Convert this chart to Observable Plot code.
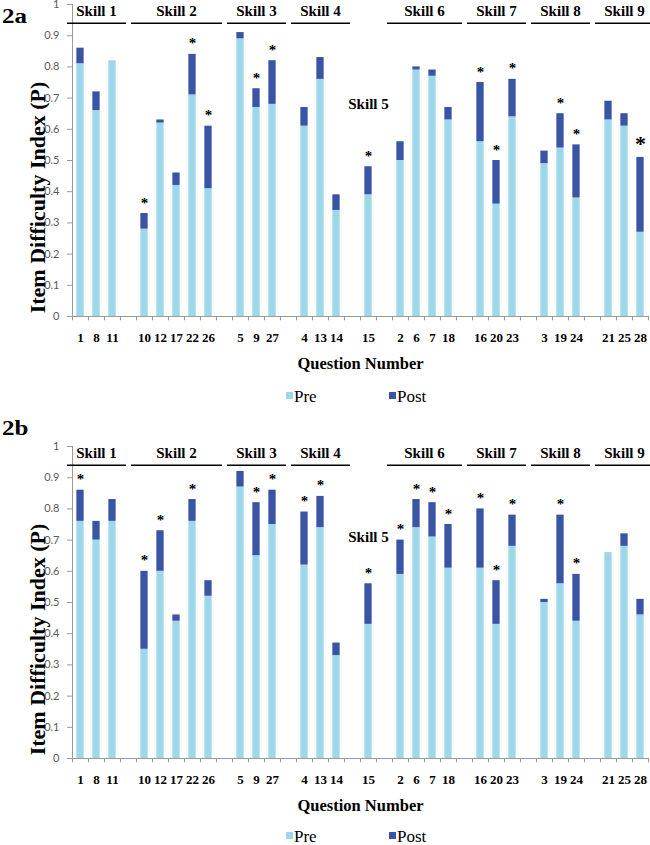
<!DOCTYPE html>
<html><head><meta charset="utf-8">
<script src="https://cdn.jsdelivr.net/npm/d3@7"></script>
<script src="https://cdn.jsdelivr.net/npm/@observablehq/plot@0.6"></script>
<style>
body{margin:0;background:#fff;}
#fig{position:relative;width:650px;height:845px;overflow:hidden;background:#fff;}
.panel{position:absolute;left:0;width:650px;}
.panel svg{overflow:visible;}
.tag{position:absolute;left:2px;font:bold 20px "Liberation Serif",serif;line-height:1;transform-origin:left bottom;transform:scaleX(1.25);}
.legend{position:absolute;left:0;width:650px;height:16px;font:17px "Liberation Serif",serif;color:#000;}
.sw{position:absolute;width:7px;height:7px;}
.lt{position:absolute;line-height:14px;height:14px;}
</style></head>
<body><div id="fig"></div>
<script>
// ---- data ----
const skills = ["Skill 1","Skill 2","Skill 3","Skill 4","Skill 5","Skill 6","Skill 7","Skill 8","Skill 9"];
const questions = ["1","8","11","10","12","17","22","26","5","9","27","4","13","14","15","2","6","7","18","16","20","23","3","19","24","21","25","28"];
const questionSkill = [1,1,1,2,2,2,2,2,3,3,3,4,4,4,5,6,6,6,6,7,7,7,8,8,8,9,9,9];

const preA  = [0.81,0.66,0.82,0.28,0.62,0.42,0.71,0.41,0.89,0.67,0.68,0.61,0.76,0.34,0.39,0.50,0.79,0.77,0.63,0.56,0.36,0.64,0.49,0.54,0.38,0.63,0.61,0.27];
const postA = [0.86,0.72,0.82,0.33,0.63,0.46,0.84,0.61,0.91,0.73,0.82,0.67,0.83,0.39,0.48,0.56,0.80,0.79,0.67,0.75,0.50,0.76,0.53,0.65,0.55,0.69,0.65,0.51];
const sigA  = ["10","22","26","9","27","15","16","20","23","19","24","28"];

const preB  = [0.76,0.70,0.76,0.35,0.60,0.44,0.76,0.52,0.87,0.65,0.75,0.62,0.74,0.33,0.43,0.59,0.74,0.71,0.61,0.61,0.43,0.68,0.50,0.56,0.44,0.66,0.68,0.46];
const postB = [0.86,0.76,0.83,0.60,0.73,0.46,0.83,0.57,0.92,0.82,0.86,0.79,0.84,0.37,0.56,0.70,0.83,0.82,0.75,0.80,0.57,0.78,0.51,0.78,0.59,0.66,0.72,0.51];
const sigB  = ["1","10","12","22","9","27","4","13","15","2","6","7","18","16","20","23","19","24"];

const yTicks = [0,0.1,0.2,0.3,0.4,0.5,0.6,0.7,0.8,0.9,1];
const legendLabels = ["Pre","Post"];
const xTitle = "Question Number";
const yTitle = "Item Difficulty Index (P)";

// ---- styles ----
const preColor = "#9dd8ea";
const postColor = "#3a54a5";
const axisGray = "#9a9a9a";
const serif = "Liberation Serif, Times New Roman, serif";

// ---- slot layout (gap between skills) ----
const slotKeys = [];
const slotLabel = new Map();
skills.forEach((s, si) => {
  if (si > 0) { const g = "gap" + si; slotKeys.push(g); slotLabel.set(g, ""); }
  questions.forEach((q, i) => { if (questionSkill[i] === si + 1) { slotKeys.push("q" + q); slotLabel.set("q" + q, q); } });
});
const skillRows = skills.map((name, si) => {
  const keys = questions.filter((q, i) => questionSkill[i] === si + 1).map(q => "q" + q);
  return {name, first: keys[0], last: keys[keys.length - 1], mid: keys[Math.floor((keys.length - 1) / 2)], n: keys.length};
});

const W = 650, H = 380, ML = 72, MR = 2, MT = 5, MB = 63;
const step = (W - ML - MR) / slotKeys.length;

function panel(pre, post, sig, skill5Y, bigStars) {
  const rows = questions.map((q, i) => ({q, slot: "q" + q, pre: pre[i], post: post[i], sig: sig.includes(q)}));
  const stars = rows.filter(d => d.sig && !bigStars.includes(d.q));
  const big = rows.filter(d => d.sig && bigStars.includes(d.q));
  const multi = skillRows.filter(d => d.n > 1);
  return Plot.plot({
    width: W, height: H, marginLeft: ML, marginRight: MR, marginTop: MT, marginBottom: MB,
    style: {fontFamily: "Lato, sans-serif", fontSize: "11px", background: "transparent", overflow: "visible"},
    x: {type: "band", domain: slotKeys, padding: 0, axis: null},
    y: {domain: [0, 1], axis: null},
    marks: [
      Plot.barY(rows, {x: "slot", y1: 0, y2: "pre", fill: preColor, insetLeft: 4.35, insetRight: 4.35}),
      Plot.barY(rows, {x: "slot", y1: "pre", y2: "post", fill: postColor, insetLeft: 4.35, insetRight: 4.35}),
      Plot.ruleY([0], {stroke: axisGray}),
      Plot.ruleX([slotKeys[0]], {x: d => d, y1: 0, y2: 1, dx: -step / 2, stroke: axisGray}),
      Plot.ruleX(slotKeys, {x: d => d, y1: 0, y2: -0.014, dx: -step / 2, stroke: axisGray}),
      Plot.ruleX([slotKeys[slotKeys.length - 1]], {x: d => d, y1: 0, y2: -0.014, dx: step / 2, stroke: axisGray}),
      Plot.axisY({ticks: yTicks, tickSize: 5, tickPadding: 8, tickFormat: d => String(+d.toFixed(1)), fontSize: 11, color: "#595959", stroke: axisGray, label: null}),
      Plot.text(rows, {x: "slot", text: d => slotLabel.get(d.slot), frameAnchor: "bottom", lineAnchor: "bottom", dy: 25, fontFamily: serif, fontWeight: "bold", fontSize: 13, fill: "#000"}),
      Plot.text([xTitle], {text: d => d, frameAnchor: "bottom", textAnchor: "middle", lineAnchor: "bottom", dy: 52, fontFamily: serif, fontWeight: "bold", fontSize: 16.5, fill: "#000"}),
      Plot.text([yTitle], {text: d => d, frameAnchor: "left", textAnchor: "middle", rotate: -90, dx: -35, dy: 37, lineAnchor: "middle", fontFamily: serif, fontWeight: "bold", fontSize: 22, fill: "#000"}),
      Plot.ruleY(multi, {x1: "first", x2: "last", y: 0.94, insetLeft: -5, insetRight: -6, stroke: "#000", strokeWidth: 1.6}),
      Plot.text(multi.filter(d => d.n % 2 === 1), {x: "mid", y: 0.962, text: "name", lineAnchor: "bottom", fontFamily: serif, fontWeight: "bold", fontSize: 15, fill: "#000"}),
      Plot.text(multi.filter(d => d.n % 2 === 0), {x: "mid", y: 0.962, text: "name", dx: step / 2, lineAnchor: "bottom", fontFamily: serif, fontWeight: "bold", fontSize: 15, fill: "#000"}),
      Plot.text(skillRows.filter(d => d.n === 1), {x: "mid", y: skill5Y, text: "name", lineAnchor: "bottom", fontFamily: serif, fontWeight: "bold", fontSize: 15, fill: "#000"}),
      Plot.text(stars, {x: "slot", y: "post", text: () => "*", lineAnchor: "bottom", dy: -6, fontFamily: serif, fontWeight: "bold", fontSize: 15, fill: "#000"}),
      Plot.text(big, {x: "slot", y: "post", text: () => "*", lineAnchor: "bottom", dy: -6, fontFamily: serif, fontWeight: "bold", fontSize: 22, fill: "#000"})
    ]
  });
}

const fig = document.getElementById("fig");
function addPanel(top, tag, tagTop, legendTop, chart) {
  const p = document.createElement("div");
  p.className = "panel"; p.style.top = top + "px";
  p.appendChild(chart);
  fig.appendChild(p);
  const t = document.createElement("div");
  t.className = "tag"; t.style.top = tagTop + "px"; t.textContent = tag;
  fig.appendChild(t);
  const lg = document.createElement("div");
  lg.className = "legend"; lg.style.top = legendTop + "px";
  const colors = [preColor, postColor];
  const swX = [286, 389];
  legendLabels.forEach((lab, i) => {
    const sw = document.createElement("div");
    sw.className = "sw"; sw.style.left = swX[i] + "px"; sw.style.top = "2px"; sw.style.background = colors[i];
    const tx = document.createElement("div");
    tx.className = "lt"; tx.style.left = (swX[i] + 8) + "px"; tx.style.top = "0px"; tx.textContent = lab;
    lg.appendChild(sw); lg.appendChild(tx);
  });
  fig.appendChild(lg);
}
addPanel(-1, "2a", 6, 390, panel(preA, postA, sigA, 0.665, ["28"]));
addPanel(441, "2b", 418, 830, panel(preB, postB, sigB, 0.693, []));
</script>
</body></html>
